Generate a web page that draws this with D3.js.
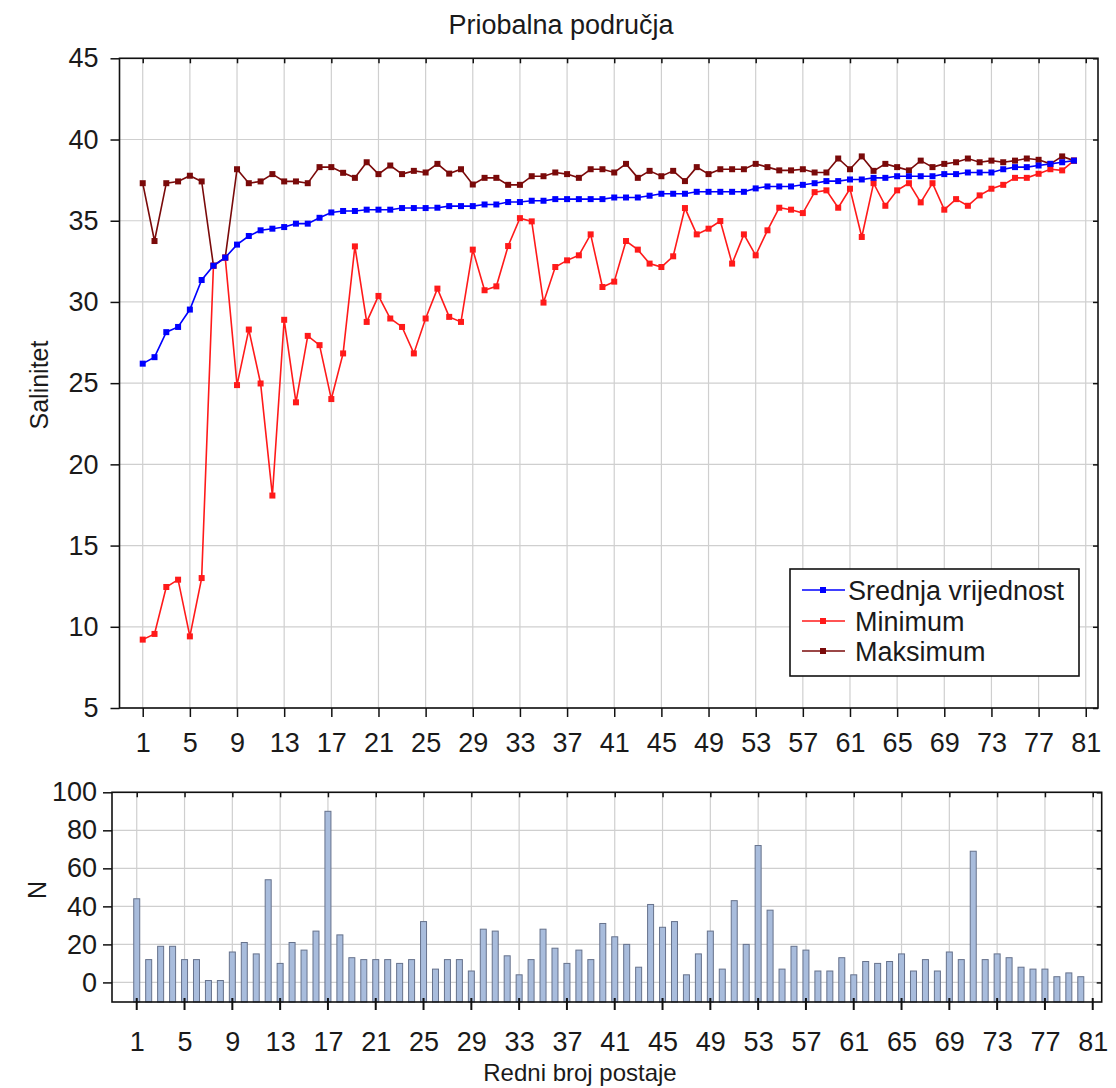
<!DOCTYPE html>
<html>
<head>
<meta charset="utf-8">
<script src="https://cdn.jsdelivr.net/npm/d3@7"></script>
<style>
  html, body { margin: 0; padding: 0; background: #fff; }
  svg { display: block; }
  text { font-family: "Liberation Sans", Arial, sans-serif; fill: #1a1a1a; }
</style>
</head>
<body>
<svg id="chart" width="1116" height="1088"></svg>
<script>
// Station numbers (ordered by mean salinity)
const stations = d3.range(1, 81);

// Mean salinity per station
const meanVals = [
  26.2, 26.6, 28.14, 28.46, 29.53, 31.35, 32.23, 32.73, 33.53, 34.06,
  34.41, 34.51, 34.61, 34.82, 34.82, 35.18, 35.51, 35.6, 35.6, 35.68,
  35.68, 35.68, 35.78, 35.78, 35.78, 35.8, 35.9, 35.9, 35.9, 36.0,
  36.0, 36.15, 36.15, 36.23, 36.23, 36.33, 36.33, 36.33, 36.33, 36.33,
  36.43, 36.43, 36.43, 36.54, 36.66, 36.66, 36.66, 36.78, 36.78, 36.78,
  36.78, 36.78, 36.99, 37.11, 37.11, 37.11, 37.21, 37.31, 37.44, 37.44,
  37.54, 37.54, 37.64, 37.64, 37.74, 37.74, 37.74, 37.74, 37.87, 37.87,
  37.97, 37.97, 37.97, 38.17, 38.3, 38.3, 38.4, 38.5, 38.6, 38.7
];

// Minimum salinity per station
const minVals = [
  9.21, 9.56, 12.45, 12.9, 9.41, 13.0, 32.23, 32.73, 24.88, 28.3,
  24.98, 18.08, 28.9, 23.82, 27.91, 27.34, 24.02, 26.83, 33.42, 28.77,
  30.37, 28.98, 28.46, 26.83, 28.98, 30.82, 29.08, 28.77, 33.22, 30.72,
  30.96, 33.44, 35.16, 34.96, 29.96, 32.15, 32.56, 32.87, 34.16, 30.92,
  31.25, 33.75, 33.22, 32.36, 32.15, 32.81, 35.78, 34.16, 34.51, 34.98,
  32.36, 34.16, 32.87, 34.41, 35.8, 35.68, 35.47, 36.76, 36.87, 35.8,
  36.97, 34.0, 37.31, 35.92, 36.87, 37.31, 36.13, 37.31, 35.68, 36.33,
  35.92, 36.56, 36.97, 37.21, 37.64, 37.64, 37.89, 38.17, 38.1, 38.7
];

// Maximum salinity per station
const maxVals = [
  37.31, 33.75, 37.31, 37.42, 37.77, 37.42, 32.23, 32.73, 38.17, 37.31,
  37.42, 37.87, 37.42, 37.42, 37.31, 38.3, 38.3, 37.95, 37.64, 38.6,
  37.87, 38.4, 37.87, 38.07, 37.97, 38.5, 37.9, 38.17, 37.23, 37.64,
  37.64, 37.21, 37.21, 37.74, 37.74, 37.97, 37.87, 37.64, 38.17, 38.17,
  37.97, 38.5, 37.64, 38.07, 37.74, 38.07, 37.44, 38.3, 37.87, 38.17,
  38.17, 38.17, 38.5, 38.3, 38.1, 38.1, 38.17, 37.97, 37.97, 38.83,
  38.17, 38.96, 38.07, 38.5, 38.3, 38.1, 38.7, 38.3, 38.5, 38.6,
  38.83, 38.6, 38.7, 38.6, 38.7, 38.83, 38.75, 38.5, 38.96, 38.7
];

// Number of samples per station
const nVals = [
  44, 12, 19, 19, 12, 12, 1, 1, 16, 21,
  15, 54, 10, 21, 17, 27, 90, 25, 13, 12,
  12, 12, 10, 12, 32, 7, 12, 12, 6, 28,
  27, 14, 4, 12, 28, 18, 10, 17, 12, 31,
  24, 20, 8, 41, 29, 32, 4, 15, 27, 7,
  43, 20, 72, 38, 7, 19, 17, 6, 6, 13,
  4, 11, 10, 11, 15, 6, 12, 6, 16, 12,
  69, 12, 15, 13, 8, 7, 7, 3, 5, 3
];

// Axis ticks and labels
const xTicks = d3.range(1, 82, 4);
const salTicks = [5, 10, 15, 20, 25, 30, 35, 40, 45];
const nTicks = [0, 20, 40, 60, 80, 100];

const titleText = "Priobalna područja";
const yTitleTop = "Salinitet";
const yTitleBottom = "N";
const xTitle = "Redni broj postaje";
const seriesNames = ["Srednja vrijednost", "Minimum", "Maksimum"];
const seriesColors = ["#0000ff", "#ff1a1a", "#7a0a0a"];

const svg = d3.select("#chart");
const FS = 27;

// ---------- Upper panel: salinity ----------
const upBox = { left: 119.5, right: 1098, top: 58.3, bottom: 708 };
const xUp = d3.scaleLinear().domain([-0.97, 82.04]).range([upBox.left, upBox.right]);
const yUp = d3.scaleLinear().domain([5, 45]).range([upBox.bottom, upBox.top]);

const gUp = svg.append("g");

// grid
gUp.append("g").selectAll("line").data(xTicks).join("line")
  .attr("x1", d => xUp(d)).attr("x2", d => xUp(d))
  .attr("y1", upBox.top).attr("y2", upBox.bottom)
  .attr("stroke", "#cfcfcf").attr("stroke-width", 1.2);
gUp.append("g").selectAll("line").data(salTicks).join("line")
  .attr("x1", upBox.left).attr("x2", upBox.right)
  .attr("y1", d => yUp(d)).attr("y2", d => yUp(d))
  .attr("stroke", "#cfcfcf").attr("stroke-width", 1.2);

// axes
gUp.append("g").attr("transform", `translate(0,${upBox.bottom})`)
  .call(d3.axisBottom(xUp).tickValues(xTicks).tickSize(9).tickPadding(16).tickFormat(d3.format("d")));
gUp.append("g").attr("transform", `translate(${upBox.left},0)`)
  .call(d3.axisLeft(yUp).tickValues(salTicks).tickSize(9).tickPadding(12));
// inner ticks on the upper and right edges
gUp.append("g").attr("transform", `translate(0,${upBox.top})`)
  .call(d3.axisTop(xUp).tickValues(xTicks).tickSize(-5).tickFormat(""));
gUp.append("g").attr("transform", `translate(${upBox.right},0)`)
  .call(d3.axisRight(yUp).tickValues(salTicks).tickSize(-5).tickFormat(""));

// frame
gUp.append("rect")
  .attr("x", upBox.left).attr("y", upBox.top)
  .attr("width", upBox.right - upBox.left).attr("height", upBox.bottom - upBox.top)
  .attr("fill", "none").attr("stroke", "#111").attr("stroke-width", 1.6);

// series lines with square markers
const series = [meanVals, minVals, maxVals];
const line = d3.line().x((d, i) => xUp(stations[i])).y(d => yUp(d));
[2, 1, 0].forEach(k => {
  const g = gUp.append("g");
  g.append("path").datum(series[k])
    .attr("d", line).attr("fill", "none")
    .attr("stroke", seriesColors[k]).attr("stroke-width", 1.6);
  g.selectAll("rect").data(series[k]).join("rect")
    .attr("x", (d, i) => xUp(stations[i]) - 3)
    .attr("y", d => yUp(d) - 3)
    .attr("width", 6).attr("height", 6)
    .attr("fill", seriesColors[k]);
});

// legend
const leg = gUp.append("g");
leg.append("rect").attr("x", 790).attr("y", 569).attr("width", 289).attr("height", 107)
  .attr("fill", "#fff").attr("stroke", "#111").attr("stroke-width", 1.6);
const legY = [590, 621, 651];
const legX = [848, 855, 855];
seriesNames.forEach((name, k) => {
  leg.append("line").attr("x1", 802).attr("x2", 845)
    .attr("y1", legY[k]).attr("y2", legY[k])
    .attr("stroke", seriesColors[k]).attr("stroke-width", 1.5);
  leg.append("rect").attr("x", 820).attr("y", legY[k] - 3).attr("width", 6).attr("height", 6)
    .attr("fill", seriesColors[k]);
  leg.append("text").attr("x", legX[k]).attr("y", legY[k]).attr("dy", "0.36em")
    .attr("font-size", FS).text(name);
});

// titles
svg.append("text").attr("x", 561).attr("y", 34).attr("text-anchor", "middle")
  .attr("font-size", FS).text(titleText);
svg.append("text").attr("transform", "translate(48,385) rotate(-90)")
  .attr("text-anchor", "middle").attr("font-size", 25).text(yTitleTop);

// ---------- Lower panel: sample counts ----------
const lowBox = { left: 112, right: 1101.7, top: 792.3, bottom: 1002 };
const xLow = d3.scaleLinear().domain([-1.07, 81.75]).range([lowBox.left, lowBox.right]);
const yLow = d3.scaleLinear().domain([-10.3, 100]).range([lowBox.bottom, lowBox.top]);

const gLow = svg.append("g");
gLow.append("g").selectAll("line").data(xTicks).join("line")
  .attr("x1", d => xLow(d)).attr("x2", d => xLow(d))
  .attr("y1", lowBox.top).attr("y2", lowBox.bottom)
  .attr("stroke", "#cfcfcf").attr("stroke-width", 1.2);
gLow.append("g").selectAll("line").data(nTicks).join("line")
  .attr("x1", lowBox.left).attr("x2", lowBox.right)
  .attr("y1", d => yLow(d)).attr("y2", d => yLow(d))
  .attr("stroke", "#cfcfcf").attr("stroke-width", 1.2);

// bars rise from the lower edge of the panel
gLow.append("g").selectAll("rect").data(nVals).join("rect")
  .attr("x", (d, i) => xLow(stations[i]) - 3)
  .attr("y", d => yLow(d))
  .attr("width", 6)
  .attr("height", d => lowBox.bottom - yLow(d))
  .attr("fill", "#a8bcdc").attr("stroke", "#66728c").attr("stroke-width", 1);

gLow.append("g").attr("transform", `translate(0,${lowBox.bottom})`)
  .call(d3.axisBottom(xLow).tickValues(xTicks).tickSize(0).tickPadding(30).tickFormat(d3.format("d")));
// ticks crossing the lower edge
gLow.append("g").selectAll("line").data(xTicks).join("line")
  .attr("x1", d => xLow(d)).attr("x2", d => xLow(d))
  .attr("y1", lowBox.bottom - 4).attr("y2", lowBox.bottom + 8)
  .attr("stroke", "#111").attr("stroke-width", 2);
gLow.append("g").attr("transform", `translate(${lowBox.left},0)`)
  .call(d3.axisLeft(yLow).tickValues(nTicks).tickSize(9).tickPadding(6));
gLow.append("g").attr("transform", `translate(0,${lowBox.top})`)
  .call(d3.axisTop(xLow).tickValues(xTicks).tickSize(-5).tickFormat(""));
gLow.append("g").attr("transform", `translate(${lowBox.right},0)`)
  .call(d3.axisRight(yLow).tickValues(nTicks).tickSize(-5).tickFormat(""));

gLow.append("rect")
  .attr("x", lowBox.left).attr("y", lowBox.top)
  .attr("width", lowBox.right - lowBox.left).attr("height", lowBox.bottom - lowBox.top)
  .attr("fill", "none").attr("stroke", "#111").attr("stroke-width", 1.6);

svg.append("text").attr("transform", "translate(46,890) rotate(-90)")
  .attr("text-anchor", "middle").attr("font-size", 25).text(yTitleBottom);
svg.append("text").attr("x", 580).attr("y", 1081).attr("text-anchor", "middle")
  .attr("font-size", 24).text(xTitle);

// shared axis styling
svg.selectAll(".domain").remove();
svg.selectAll(".tick line").attr("stroke", "#111").attr("stroke-width", 1.5);
svg.selectAll(".tick text").attr("font-size", FS).attr("fill", "#1a1a1a")
  .attr("font-family", '"Liberation Sans", Arial, sans-serif');
</script>
</body>
</html>
